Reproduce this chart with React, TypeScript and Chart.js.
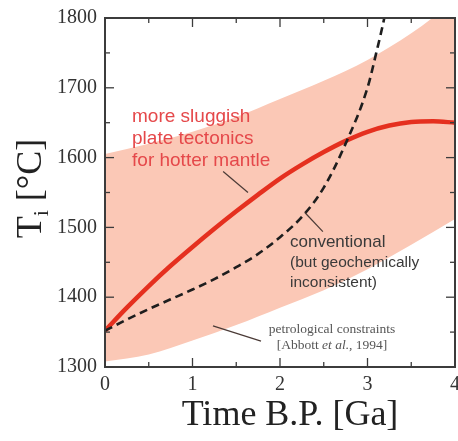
import React, { useEffect, useRef } from "react";
import { Chart, registerables } from "chart.js";

Chart.register(...registerables);

// ---- data ----
const sluggishTime = [0, 0.25, 0.5, 0.75, 1.0, 1.25, 1.5, 1.75, 2.0, 2.25, 2.5, 2.75, 3.0, 3.25, 3.5, 3.75, 4.0];
const sluggishTemp = [1352, 1385, 1416, 1445, 1472, 1498, 1523, 1547, 1570, 1590, 1608, 1624, 1637, 1646, 1651, 1652, 1650];

const conventionalTime = [0, 0.25, 0.5, 0.75, 1.0, 1.25, 1.5, 1.75, 2.0, 2.25, 2.5, 2.75, 3.0, 3.1, 3.2, 3.25];
const conventionalTemp = [1352, 1368, 1383, 1397, 1411, 1426, 1443, 1462, 1486, 1515, 1557, 1620, 1700, 1750, 1805, 1840];

const bandTime = [0, 0.5, 1.0, 1.5, 2.0, 2.5, 3.0, 3.5, 4.0];
const bandUpper = [1605, 1620, 1637, 1658, 1684, 1710, 1740, 1778, 1825];
const bandLower = [1308, 1318, 1338, 1360, 1385, 1410, 1440, 1475, 1512];

const xTickValues = [0, 1, 2, 3, 4];
const yTickValues = [1300, 1400, 1500, 1600, 1700, 1800];

const redLabel = ["more sluggish", "plate tectonics", "for hotter mantle"];
const convLabel = ["conventional", "(but geochemically", "inconsistent)"];
const xTitle = "Time B.P. [Ga]";

const SERIF = "'Liberation Serif', 'Times New Roman', serif";
const SANS = "'Liberation Sans', Arial, Helvetica, sans-serif";

const toXY = (xs: number[], ys: number[]) => xs.map((x, i) => ({ x, y: ys[i] }));

const overlayPlugin = {
  id: "overlay",
  afterDatasetsDraw(chart: any) {
    const { ctx, chartArea: a, scales } = chart;
    const xs = scales.x;
    const ys = scales.y;
    const px = (v: number) => xs.getPixelForValue(v);
    const py = (v: number) => ys.getPixelForValue(v);
    ctx.save();

    // frame
    ctx.strokeStyle = "#3c3c3c";
    ctx.lineWidth = 2;
    ctx.strokeRect(a.left, a.top, a.right - a.left, a.bottom - a.top);

    // inward ticks on all four sides
    ctx.lineWidth = 1.3;
    const seg = (x1: number, y1: number, x2: number, y2: number) => {
      ctx.beginPath();
      ctx.moveTo(x1, y1);
      ctx.lineTo(x2, y2);
      ctx.stroke();
    };
    for (let i = 0; i <= 8; i++) {
      const v = i * 0.5;
      const len = i % 2 === 0 ? 9 : 5;
      const p = px(v);
      seg(p, a.bottom, p, a.bottom - len);
      seg(p, a.top, p, a.top + len);
    }
    for (let i = 0; i <= 10; i++) {
      const v = 1300 + i * 50;
      const len = i % 2 === 0 ? 9 : 5;
      const p = py(v);
      seg(a.left, p, a.left + len, p);
      seg(a.right, p, a.right - len, p);
    }

    // leader lines
    ctx.strokeStyle = "#4a3a36";
    ctx.lineWidth = 1.2;
    seg(px(1.35), py(1580), px(1.634), py(1550));
    seg(px(2.286), py(1521), px(2.49), py(1494));
    seg(px(1.234), py(1359), px(1.783), py(1337));

    // red annotation
    ctx.fillStyle = "#e5484a";
    ctx.font = `19px ${SANS}`;
    ctx.textAlign = "left";
    ctx.textBaseline = "alphabetic";
    redLabel.forEach((s, i) => ctx.fillText(s, px(0.309), py(1651.4) + i * 22));

    // conventional annotation
    ctx.fillStyle = "#3a3a3a";
    convLabel.forEach((s, i) => {
      ctx.font = i === 0 ? `17px ${SANS}` : `15.5px ${SANS}`;
      ctx.fillText(s, px(2.114), py(1471.4) + i * 20);
    });

    // petrological constraints
    ctx.fillStyle = "#555555";
    ctx.textAlign = "left";
    const cx = px(2.594);
    const b1 = py(1348.6);
    ctx.font = `13.5px ${SERIF}`;
    const l1 = "petrological constraints";
    const w1 = ctx.measureText(l1).width;
    ctx.fillText(l1, cx - w1 / 2, b1);
    const parts: [string, string][] = [
      ["[Abbott ", "normal"],
      ["et al.", "italic"],
      [", 1994]", "normal"],
    ];
    let total = 0;
    parts.forEach(([t, st]) => {
      ctx.font = `${st} 13.5px ${SERIF}`;
      total += ctx.measureText(t).width;
    });
    let cur = cx - total / 2;
    parts.forEach(([t, st]) => {
      ctx.font = `${st} 13.5px ${SERIF}`;
      ctx.fillText(t, cur, b1 + 16);
      cur += ctx.measureText(t).width;
    });

    // x axis title
    ctx.fillStyle = "#222222";
    ctx.font = `36px ${SERIF}`;
    ctx.textAlign = "center";
    ctx.fillText(xTitle, (a.left + a.right) / 2 + 10, 425);

    // y axis title: T_i [°C]
    ctx.translate(41, (a.top + a.bottom) / 2 - 4);
    ctx.rotate(-Math.PI / 2);
    ctx.textAlign = "left";
    ctx.font = `36px ${SERIF}`;
    const wT = ctx.measureText("T").width;
    const rest = " [°C]";
    const wR = ctx.measureText(rest).width;
    ctx.font = `22px ${SERIF}`;
    const wi = ctx.measureText("i").width;
    let sx = -(wT + wi + wR) / 2;
    ctx.font = `36px ${SERIF}`;
    ctx.fillText("T", sx, 0);
    sx += wT;
    ctx.font = `22px ${SERIF}`;
    ctx.fillText("i", sx, 7);
    sx += wi;
    ctx.font = `36px ${SERIF}`;
    ctx.fillText(rest, sx, 0);

    ctx.restore();
  },
};

export default function App() {
  const ref = useRef<HTMLCanvasElement | null>(null);

  useEffect(() => {
    document.body.style.margin = "0";
    const canvas = ref.current;
    if (!canvas) return;
    const chart = new Chart(canvas, {
      type: "line",
      data: {
        datasets: [
          {
            label: "conventional",
            data: toXY(conventionalTime, conventionalTemp),
            borderColor: "#1e1e1e",
            borderWidth: 2.6,
            borderDash: [8, 5],
            pointRadius: 0,
            fill: false,
            cubicInterpolationMode: "monotone",
            order: 0,
          },
          {
            label: "sluggish",
            data: toXY(sluggishTime, sluggishTemp),
            borderColor: "#e5301f",
            borderWidth: 4.5,
            pointRadius: 0,
            fill: false,
            cubicInterpolationMode: "monotone",
            order: 1,
          },
          {
            label: "upper",
            data: toXY(bandTime, bandUpper),
            borderWidth: 0,
            borderColor: "rgba(0,0,0,0)",
            backgroundColor: "#fbc8b6",
            pointRadius: 0,
            fill: "+1",
            cubicInterpolationMode: "monotone",
            order: 5,
          },
          {
            label: "lower",
            data: toXY(bandTime, bandLower),
            borderWidth: 0,
            borderColor: "rgba(0,0,0,0)",
            pointRadius: 0,
            fill: false,
            cubicInterpolationMode: "monotone",
            order: 6,
          },
        ],
      },
      options: {
        animation: false,
        responsive: true,
        maintainAspectRatio: false,
        layout: { padding: { left: 0, right: 3, top: 18, bottom: 0 } },
        plugins: { legend: { display: false }, tooltip: { enabled: false } },
        scales: {
          x: {
            type: "linear",
            min: 0,
            max: 4,
            afterBuildTicks: (s: any) => {
              s.ticks = xTickValues.map((v) => ({ value: v }));
            },
            ticks: {
              font: { family: SERIF, size: 20 },
              color: "#333333",
              padding: 6,
              maxRotation: 0,
              callback: (v: any) => String(v),
            },
            grid: { display: false, drawTicks: false },
            border: { display: false },
            afterFit: (s: any) => {
              s.height = 74;
              s.paddingLeft = 0;
              s.paddingRight = 0;
            },
          },
          y: {
            type: "linear",
            min: 1300,
            max: 1800,
            afterBuildTicks: (s: any) => {
              s.ticks = yTickValues.map((v) => ({ value: v }));
            },
            ticks: {
              font: { family: SERIF, size: 20 },
              color: "#333333",
              padding: 8,
              callback: (v: any) => String(v),
            },
            grid: { display: false, drawTicks: false },
            border: { display: false },
            afterFit: (s: any) => {
              s.width = 105;
              s.paddingTop = 0;
              s.paddingBottom = 0;
            },
          },
        },
      },
      plugins: [overlayPlugin],
    });
    return () => chart.destroy();
  }, []);

  return (
    <div style={{ position: "relative", width: 458, height: 441 }}>
      <canvas ref={ref} />
    </div>
  );
}
